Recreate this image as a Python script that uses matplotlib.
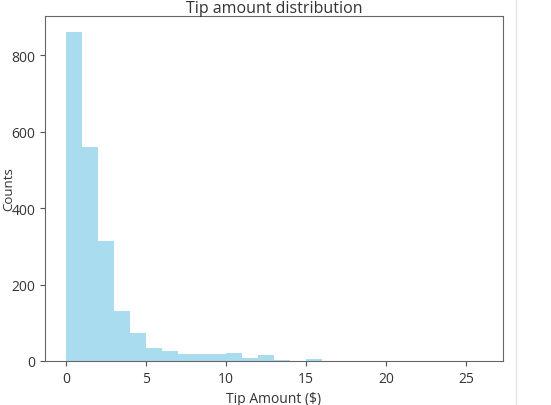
import matplotlib
matplotlib.use("Agg")
import matplotlib.pyplot as plt
from matplotlib.lines import Line2D

plt.rcParams['font.family'] = ['Open Sans', 'DejaVu Sans']

# Histogramm-Daten (Bins mit Breite 1 $)
bin_edges = list(range(0, 27))
counts = [860, 560, 315, 130, 73, 35, 25, 17, 17, 17, 22, 9, 15,
          3, 1, 4, 1, 0, 0, 0, 0, 0, 0, 0, 0, 1]

fig = plt.figure(figsize=(5.51, 4.06), dpi=100)
ax = fig.add_axes([0.0817, 0.1084, 0.8312, 0.8496])

ax.hist(bin_edges[:-1], bins=bin_edges, weights=counts,
        color='skyblue', alpha=0.7)

ax.set_title("Tip amount distribution", fontsize=11.5, color='#333333', pad=1.5)
ax.set_xlabel("Tip Amount ($)", fontsize=10, color='#333333')
ax.set_ylabel("Counts", fontsize=9.5, color='#333333')
ax.yaxis.set_label_coords(-0.064, 0.5)

ax.set_xticks([0, 5, 10, 15, 20, 25])
ax.set_yticks([0, 200, 400, 600, 800])
ax.tick_params(labelsize=10, colors='#555555', labelcolor='#333333')
for s in ax.spines.values():
    s.set_color('#666666')

# Rand des Screenshots rechts
fig.add_artist(Line2D([516 / 551, 516 / 551], [0, 1], color='#e4e4e4', lw=1))

fig.savefig("out.png", dpi=100)
